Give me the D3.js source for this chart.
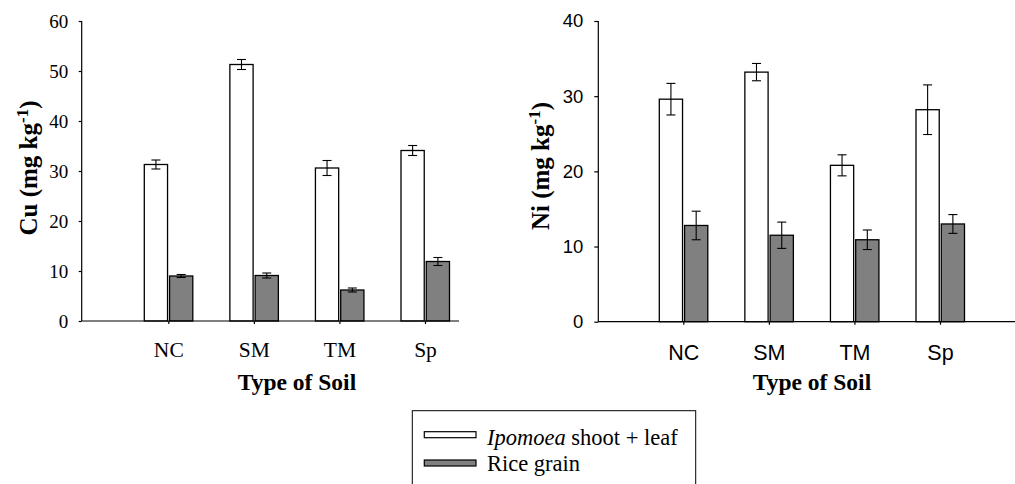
<!DOCTYPE html>
<html><head><meta charset="utf-8">
<script src="https://cdn.jsdelivr.net/npm/d3@7"></script>
<style>
html,body{margin:0;padding:0;background:#fff;}
svg{display:block;}
</style></head>
<body>
<svg id="chart" width="1015" height="484"></svg>
<script>
// ---- data ----
const categories = ["NC", "SM", "TM", "Sp"];
const seriesNames = ["Ipomoea shoot + leaf", "Rice grain"];
const cuIpomoea = [31.3, 51.3, 30.6, 34.1];
const cuIpomoeaErr = [0.9, 1.0, 1.5, 1.0];
const cuRice = [9.0, 9.1, 6.2, 11.9];
const cuRiceErr = [0.3, 0.5, 0.4, 0.8];
const niIpomoea = [29.6, 33.2, 20.8, 28.2];
const niIpomoeaErr = [2.1, 1.15, 1.4, 3.3];
const niRice = [12.8, 11.5, 10.9, 13.0];
const niRiceErr = [1.9, 1.75, 1.3, 1.25];
const cuTicks = [0, 10, 20, 30, 40, 50, 60];
const niTicks = [0, 10, 20, 30, 40];

const svg = d3.select("#chart");
const colors = ["#ffffff", "#808080"];
const SERIF = "'Liberation Serif', 'Times New Roman', serif";
const SANS = "'Liberation Sans', Arial, sans-serif";

function panel(opt) {
  const g = svg.append("g");
  const y = d3.scaleLinear().domain([0, opt.ymax]).range([opt.y0, opt.y1]);
  const x = d3.scalePoint().domain(categories).range(opt.xr);
  const xs = d3.scaleBand().domain([0, 1]).range([-24, 24.5]).paddingInner(0.08);

  // y axis
  const ya = g.append("g").attr("transform", `translate(${opt.axisX},0)`)
    .call(d3.axisLeft(y).tickValues(opt.ticks).tickSize(opt.tickLen).tickPadding(opt.tickPad).tickFormat(d3.format("d")));
  ya.select(".domain").attr("stroke", "#000").attr("stroke-width", 1.2).attr("d", `M0,${opt.y1}V${opt.y0}`);
  ya.selectAll(".tick line").attr("stroke", "#000").attr("stroke-width", 1.2);
  ya.selectAll(".tick text").attr("font-family", opt.tickFont).attr("font-size", opt.tickSize).attr("fill", "#000");

  // bars
  const series = [opt.a, opt.b];
  const errs = [opt.ae, opt.be];
  series.forEach((vals, si) => {
    g.append("g").selectAll("rect").data(vals).join("rect")
      .attr("x", (d, i) => x(categories[i]) + xs(si))
      .attr("width", xs.bandwidth())
      .attr("y", d => y(d))
      .attr("height", d => y(0) - y(d))
      .attr("fill", colors[si]).attr("stroke", "#000").attr("stroke-width", 1.3);
    const eg = g.append("g").attr("stroke", "#000").attr("stroke-width", 1.1);
    vals.forEach((d, i) => {
      const cx = x(categories[i]) + xs(si) + xs.bandwidth() / 2;
      const e = errs[si][i];
      eg.append("line").attr("x1", cx).attr("x2", cx).attr("y1", y(d + e)).attr("y2", y(d - e));
      eg.append("line").attr("x1", cx - 4.5).attr("x2", cx + 4.5).attr("y1", y(d + e)).attr("y2", y(d + e));
      eg.append("line").attr("x1", cx - 4.5).attr("x2", cx + 4.5).attr("y1", y(d - e)).attr("y2", y(d - e));
    });
  });

  // x axis
  const xa = g.append("g").attr("transform", `translate(0,${y(0)})`)
    .call(d3.axisBottom(x).tickSize(3).tickPadding(opt.catPad));
  xa.select(".domain").attr("stroke", "#000").attr("stroke-width", 1.2).attr("d", `M${opt.axisX},0H${opt.xEnd}`);
  xa.selectAll(".tick line").attr("stroke", "#000").attr("stroke-width", 1.2);
  xa.selectAll(".tick text").attr("font-family", opt.tickFont).attr("font-size", opt.catSize).attr("fill", "#000");

  // titles
  g.append("text").attr("x", opt.titleX).attr("y", 390).attr("text-anchor", "middle")
    .attr("font-family", SERIF).attr("font-weight", "bold")
    .attr("font-size", 23.5).text("Type of Soil");
  const yl = g.append("text").attr("transform", `translate(${opt.ylabX},${opt.ylabY}) rotate(-90)`)
    .attr("text-anchor", "middle")
    .attr("font-family", SERIF).attr("font-weight", "bold")
    .attr("font-size", 25);
  yl.append("tspan").text(opt.ylab + " (mg kg");
  yl.append("tspan").attr("dy", -9).attr("font-size", 17).text("-1");
  yl.append("tspan").attr("dy", 9).text(")");
}

panel({
  ymax: 60, y0: 321, y1: 21, xr: [168.3, 425], axisX: 81.7, xEnd: 459,
  ticks: cuTicks, tickLen: 3, tickPad: 10.5, tickFont: SERIF,
  tickSize: 19, catSize: 21.5, catPad: 17.5,
  a: cuIpomoea, ae: cuIpomoeaErr, b: cuRice, be: cuRiceErr,
  titleX: 297, ylabX: 37, ylabY: 168, ylab: "Cu"
});
panel({
  ymax: 40, y0: 321.7, y1: 21, xr: [683.3, 940], axisX: 598.3, xEnd: 1015,
  ticks: niTicks, tickLen: 4, tickPad: 11, tickFont: SANS,
  tickSize: 18.5, catSize: 21.5, catPad: 20,
  a: niIpomoea, ae: niIpomoeaErr, b: niRice, be: niRiceErr,
  titleX: 812, ylabX: 549, ylabY: 166, ylab: "Ni"
});

// legend
const lg = svg.append("g");
lg.append("rect").attr("x", 412.3).attr("y", 410.7).attr("width", 283.4).attr("height", 90)
  .attr("fill", "#fff").attr("stroke", "#000").attr("stroke-width", 1);
seriesNames.forEach((name, i) => {
  const yy = [431.7, 460][i];
  lg.append("rect").attr("x", 424.3).attr("y", yy).attr("width", 51.7).attr("height", 6)
    .attr("fill", colors[i]).attr("stroke", "#000").attr("stroke-width", 1.2);
  const t = lg.append("text").attr("x", 487).attr("y", [445, 471][i])
    .attr("font-family", SERIF).attr("font-size", 22.5).attr("fill", "#000");
  if (i === 0) {
    t.append("tspan").attr("font-style", "italic").text("Ipomoea");
    t.append("tspan").text(" shoot + leaf");
  } else {
    t.text(name);
  }
});
</script>
</body></html>
